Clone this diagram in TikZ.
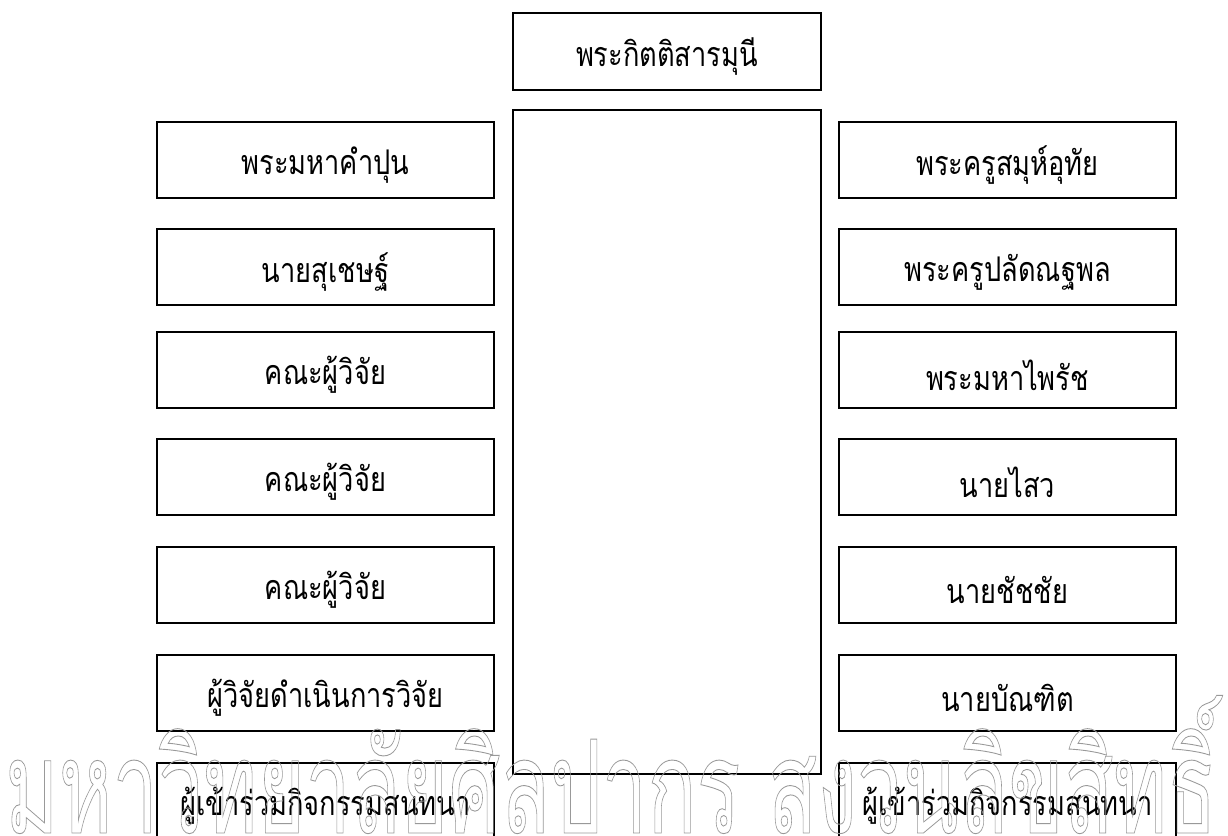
\documentclass[tikz,border=0pt]{standalone}
\usepackage{fontspec}
\newfontfamily\thaifont[Script=Thai, FakeStretch=0.8]{Loma}
\newfontfamily\markfont[Script=Thai]{Loma}
\newcommand\hollowtext[1]{\special{pdf:literal 1 Tr 0.9 w}#1\special{pdf:literal 0 Tr}}
\newcommand\lw[1]{\raisebox{-5pt}[\height][\depth]{#1}}
\tikzset{
  namebox/.style={draw=black, line width=1.3pt, minimum width=337pt, minimum height=76pt,
    inner sep=0pt, font=\thaifont\fontsize{34}{40}\selectfont},
  headbox/.style={draw=black, line width=1.3pt, minimum width=308pt, minimum height=77pt,
    inner sep=0pt, font=\thaifont\fontsize{34}{40}\selectfont},
  bigbox/.style={draw=black, line width=1.5pt, minimum width=308pt, minimum height=664pt, inner sep=0pt},
  watermark/.style={text=black!40, inner sep=0pt, anchor=base west,
    font=\markfont\fontsize{130}{140}\selectfont}
}
\begin{document}
\begin{tikzpicture}[x=1pt,y=-1pt]
\useasboundingbox (0,0) rectangle (1228,835);
\clip (0,0) rectangle (1228,835);
\fill[white] (0,0) rectangle (1228,835);
% centre column
\node[headbox] (head) at (667,51.5) {\lw{พระกิตติสารมุนี}};
\node[bigbox] (big) at (667,442) {};
% left column
\node[namebox] (l1) at (325.5,160) {\lw{พระมหาคำปุน}};
\node[namebox] (l2) at (325.5,267) {\lw{นายสุเชษฐ์}};
\node[namebox] (l3) at (325.5,370) {\lw{คณะผู้วิจัย}};
\node[namebox] (l4) at (325.5,477) {\lw{คณะผู้วิจัย}};
\node[namebox] (l5) at (325.5,585) {\lw{คณะผู้วิจัย}};
\node[namebox] (l6) at (325.5,693) {\lw{ผู้วิจัยดำเนินการวิจัย}};
\node[namebox] (l7) at (325.5,801) {\lw{ผู้เข้าร่วมกิจกรรมสนทนา}};
% right column
\node[namebox] (r1) at (1007.5,160) {\lw{พระครูสมุห์อุทัย}};
\node[namebox] (r2) at (1007.5,267) {\lw{พระครูปลัดณฐพล}};
\node[namebox] (r3) at (1007.5,370) {\lw{พระมหาไพรัช}};
\node[namebox] (r4) at (1007.5,477) {\lw{นายไสว}};
\node[namebox] (r5) at (1007.5,585) {\lw{นายชัชชัย}};
\node[namebox] (r6) at (1007.5,693) {\lw{นายบัณฑิต}};
\node[namebox] (r7) at (1007.5,801) {\lw{ผู้เข้าร่วมกิจกรรมสนทนา}};
% watermark
\node[watermark, xscale=0.626] (wm) at (5,833) {\hollowtext{มหาวิทยาลัยศิลปากร สงวนลิขสิทธิ์}};
\end{tikzpicture}
\end{document}
